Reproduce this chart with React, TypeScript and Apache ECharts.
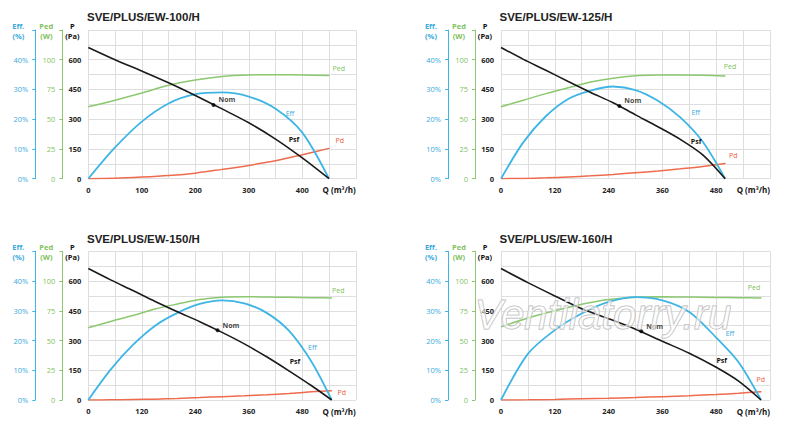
import React, { useEffect, useRef } from "react";
import * as echarts from "echarts";

// ---------- data ----------
const titles = ["SVE/PLUS/EW-100/H", "SVE/PLUS/EW-125/H", "SVE/PLUS/EW-150/H", "SVE/PLUS/EW-160/H"];
const qName = "Q (m³/h)";
const qMax = [500, 600, 600, 600];
const qStep = [50, 60, 60, 60];
const qLabelStep = [100, 120, 120, 120];
const pMax = 750;
const pStep = 75;
const pLabelStep = 150;
const effMax = 50;
const effStep = 10;
const pedMax = 125;
const pedStep = 25;

const q1 = [0, 50, 100, 150, 200, 250, 300, 350, 400, 450];
const psf1 = [662, 600, 543, 484, 420, 352, 282, 200, 105, 0];
const eff1 = [0, 10.5, 19.2, 25.3, 28.4, 29, 27.6, 23.5, 15.5, 0];
const ped1 = [60.5, 66, 72, 78.5, 83, 86, 87.2, 87.4, 87.2, 86.8];
const pd1 = [0, 2, 8, 16, 28, 47, 67, 90, 121, 153];
const nom1 = [234, 372];

const q2 = [0, 50, 100, 150, 200, 250, 300, 350, 400, 450, 500];
const psf2 = [662, 602, 547, 490, 435, 383, 322, 262, 198, 120, 0];
const eff2 = [0, 12.3, 21, 26.8, 29.6, 31, 29.8, 26.2, 20.6, 12.4, 0];
const ped2 = [60.5, 66, 71.5, 76.5, 81.2, 84.5, 86.5, 87.1, 87.2, 87, 86.3];
const pd2 = [0, 1.5, 4.5, 9, 14.5, 21.5, 30, 39, 50, 62, 77];
const nom2 = [264, 367];

const q3 = [0, 50, 100, 150, 200, 250, 300, 350, 400, 450, 500, 546];
const psf3 = [663, 606, 552, 497, 445, 395, 341, 283, 218, 147, 73, 0];
const eff3 = [0, 10.2, 18.5, 25, 29.3, 32.3, 33.5, 32.5, 29.3, 23.3, 13, 0];
const ped3 = [60.7, 66, 71, 76.5, 80.7, 84.5, 86.4, 86.8, 86.6, 86.3, 86, 85.8];
const pd3 = [0, 0.8, 2.3, 4.3, 7.5, 12, 17, 21, 26.5, 33, 41, 47];
const nom3 = [290, 352];

const q4 = [0, 60, 120, 180, 240, 300, 360, 420, 480, 530, 580];
const psf4 = [663, 592, 525, 460, 410, 357, 296, 236, 165, 95, 0];
const eff4 = [0, 15.5, 23.5, 29.1, 33, 34.6, 33.5, 29.6, 21, 12.7, 0];
const ped4 = [61.5, 69, 75, 80.5, 84.5, 86.4, 86.7, 86.5, 86.2, 86, 85.8];
const pd4 = [0, 1, 3, 6, 9, 12.5, 17, 22, 28, 34, 42];
const nom4 = [313, 347];

const charts = [
  { q: q1, psf: psf1, eff: eff1, ped: ped1, pd: pd1, nom: nom1 },
  { q: q2, psf: psf2, eff: eff2, ped: ped2, pd: pd2, nom: nom2 },
  { q: q3, psf: psf3, eff: eff3, ped: ped3, pd: pd3, nom: nom3 },
  { q: q4, psf: psf4, eff: eff4, ped: ped4, pd: pd4, nom: nom4 },
];

// ---------- style ----------
const FONT = '"Open Sans", "Liberation Sans", Arial, sans-serif';
const TITLE_FONT = '"Liberation Sans", Arial, sans-serif';
const BLUE = "#3fb5e5";
const BLUE_TXT = "#39a9dc";
const GREEN = "#8cc870";
const GREEN_TXT = "#7fbf60";
const RED = "#ee6b4d";
const RED_TXT = "#ec5a3a";
const BLACK = "#1b1b1b";
const GRID = "#dedede";

const gridBoxes = [
  { left: 88.3, top: 30, width: 267.5, height: 148.7 },
  { left: 501, top: 30, width: 269, height: 148.7 },
  { left: 88.3, top: 251.3, width: 267.5, height: 148.7 },
  { left: 501, top: 251.3, width: 269, height: 148.7 },
];
const titlePos = [
  { left: 87, top: 10.3 },
  { left: 499.5, top: 10.3 },
  { left: 87, top: 232.3 },
  { left: 499.5, top: 232.3 },
];
// [index of point, dx, dy] of the curve labels
const labelSpec = [
  { eff: [7, 14.4, 4.5], psf: [8, -8.3, -18], ped: [9, 9.7, -7.1], pd: [9, 10.7, -7.7] },
  { eff: [8, 15.4, -5.1], psf: [9, -6.7, -13.2], ped: [10, 4.8, -9.3], pd: [10, 8.1, -7.7] },
  { eff: [10, 1.1, -13.6], psf: [9, 6.1, -9.4], ped: [11, 6.6, -7.9], pd: [11, 10, 2] },
  { eff: [8, 13.8, -4.2], psf: [8, 5.5, -6.3], ped: [10, -7, -10.6], pd: [10, -0.3, -11.7] },
];

function pts(q: number[], v: number[], spec: number[], text: string, color: string, bold: boolean) {
  return q.map((x, k) => {
    if (k !== spec[0]) return [x, v[k]];
    return {
      value: [x, v[k]],
      symbol: "circle",
      symbolSize: 1,
      label: {
        show: true,
        position: "inside",
        offset: [spec[1], spec[2]],
        formatter: text,
        color,
        fontSize: 7,
        fontWeight: bold ? "bold" : "normal",
        fontFamily: FONT,
        textBorderWidth: 0,
        textBorderColor: "transparent",
      },
    };
  });
}

function buildOption() {
  const xAxis: any[] = [];
  const yAxis: any[] = [];
  const series: any[] = [];
  const nameStyle = (color: string, padRight: number) => ({
    color,
    fontSize: 7.5,
    fontWeight: "bold",
    fontFamily: FONT,
    align: "center",
    verticalAlign: "top",
    lineHeight: 10,
    padding: [0, padRight, 0, 0],
  });

  charts.forEach((c, i) => {
    xAxis.push({
      type: "value",
      gridIndex: i,
      min: 0,
      max: qMax[i],
      interval: qStep[i],
      axisLine: { show: false, onZero: false },
      axisTick: { show: false },
      splitLine: { show: true, lineStyle: { color: GRID, width: 1 } },
      axisLabel: {
        show: true,
        showMinLabel: true,
        showMaxLabel: true,
        alignMaxLabel: "right",
        margin: 7,
        fontSize: 7.5,
        fontWeight: "bold",
        color: "#222",
        fontFamily: FONT,
        formatter: (v: number) =>
          v >= qMax[i] ? `{q|${qName}}` : v % qLabelStep[i] === 0 ? String(v) : "",
        rich: { q: { fontSize: 8, fontWeight: "bold", color: "#111", fontFamily: FONT } },
      },
    });
    // P axis
    yAxis.push({
      type: "value",
      gridIndex: i,
      min: 0,
      max: pMax,
      interval: pStep,
      position: "left",
      axisLine: { show: false, onZero: false },
      axisTick: { show: false },
      splitLine: { show: true, lineStyle: { color: GRID, width: 1 } },
      axisLabel: {
        margin: 7,
        fontSize: 7.5,
        fontWeight: "bold",
        color: "#222",
        fontFamily: FONT,
        formatter: (v: number) => (v % pLabelStep === 0 && v < pMax ? String(v) : ""),
      },
      name: "P\n(Pa)",
      nameLocation: "end",
      nameGap: 9,
      nameTextStyle: nameStyle("#111", 32),
    });
    // Ped axis
    yAxis.push({
      type: "value",
      gridIndex: i,
      min: 0,
      max: pedMax,
      interval: pedStep,
      position: "left",
      offset: 26,
      axisLine: { show: true, onZero: false, lineStyle: { color: GREEN, width: 1 } },
      axisTick: { show: true, length: 3, lineStyle: { color: GREEN } },
      splitLine: { show: false },
      axisLabel: {
        margin: 7,
        fontSize: 7.5,
        color: GREEN_TXT,
        fontFamily: FONT,
        formatter: (v: number) => (v < pedMax ? String(v) : ""),
      },
      name: "Ped\n(W)",
      nameLocation: "end",
      nameGap: 9,
      nameTextStyle: nameStyle(GREEN_TXT, 32),
    });
    // Eff axis
    yAxis.push({
      type: "value",
      gridIndex: i,
      min: 0,
      max: effMax,
      interval: effStep,
      position: "left",
      offset: 53,
      axisLine: { show: true, onZero: false, lineStyle: { color: BLUE, width: 1 } },
      axisTick: { show: true, length: 3, lineStyle: { color: BLUE } },
      splitLine: { show: false },
      axisLabel: {
        margin: 7,
        fontSize: 7.5,
        color: BLUE_TXT,
        fontFamily: FONT,
        formatter: (v: number) => (v < effMax ? v + "%" : ""),
      },
      name: "Eff.\n(%)",
      nameLocation: "end",
      nameGap: 9,
      nameTextStyle: nameStyle(BLUE_TXT, 34),
    });

    const s = labelSpec[i];
    const common = { type: "line", xAxisIndex: i, smooth: 0.3, symbol: "none", silent: true };
    series.push({
      ...common,
      name: "Pd",
      yAxisIndex: 3 * i,
      data: pts(c.q, c.pd, s.pd, "Pd", RED_TXT, false),
      lineStyle: { color: RED, width: 1.5 },
      itemStyle: { color: RED },
      z: 2,
    });
    series.push({
      ...common,
      name: "Ped",
      yAxisIndex: 3 * i + 1,
      data: pts(c.q, c.ped, s.ped, "Ped", GREEN_TXT, false),
      lineStyle: { color: GREEN, width: 1.5 },
      itemStyle: { color: GREEN },
      z: 2,
    });
    series.push({
      ...common,
      name: "Eff",
      yAxisIndex: 3 * i + 2,
      data: pts(c.q, c.eff, s.eff, "Eff", BLUE_TXT, false),
      lineStyle: { color: BLUE, width: 1.8 },
      itemStyle: { color: BLUE },
      z: 3,
    });
    series.push({
      ...common,
      name: "Psf",
      yAxisIndex: 3 * i,
      data: pts(c.q, c.psf, s.psf, "Psf", "#111", true),
      lineStyle: { color: BLACK, width: 1.6 },
      itemStyle: { color: BLACK },
      z: 4,
    });
    series.push({
      type: "scatter",
      name: "Nom",
      xAxisIndex: i,
      yAxisIndex: 3 * i,
      silent: true,
      symbol: "circle",
      symbolSize: 4,
      itemStyle: { color: "#000" },
      data: [c.nom],
      label: {
        show: true,
        position: "right",
        distance: 3,
        offset: [0, -5],
        formatter: "Nom",
        color: "#111",
        fontSize: 7,
        fontWeight: "bold",
        fontFamily: FONT,
      },
      z: 5,
    });
  });

  return {
    animation: false,
    backgroundColor: "#fff",
    title: titles.map((t, i) => ({
      text: t,
      left: titlePos[i].left,
      top: titlePos[i].top,
      padding: 0,
      textStyle: { fontSize: 11.5, fontWeight: "bold", color: "#222", fontFamily: TITLE_FONT, lineHeight: 14 },
    })),
    grid: gridBoxes.map((g) => ({ ...g, containLabel: false, outerBoundsMode: "none" })),
    xAxis,
    yAxis,
    series,
    graphic: [
      {
        type: "text",
        left: 474,
        top: 293,
        z: 100,
        silent: true,
        style: {
          text: "Ventilatorry.ru",
          fontSize: 42,
          fontStyle: "italic",
          fontFamily: '"Liberation Sans", Arial, sans-serif',
          fill: "rgba(255,255,255,0.55)",
          stroke: "#b5b5b5",
          lineWidth: 1,
        },
      },
    ],
  };
}

export default function App() {
  const ref = useRef<HTMLDivElement>(null);
  useEffect(() => {
    const chart = echarts.init(ref.current!, null, { renderer: "svg" });
    chart.setOption(buildOption() as any);
    return () => chart.dispose();
  }, []);
  return (
    <div
      ref={ref}
      style={{ position: "fixed", left: 0, top: 0, width: 800, height: 438, background: "#fff" }}
    />
  );
}
